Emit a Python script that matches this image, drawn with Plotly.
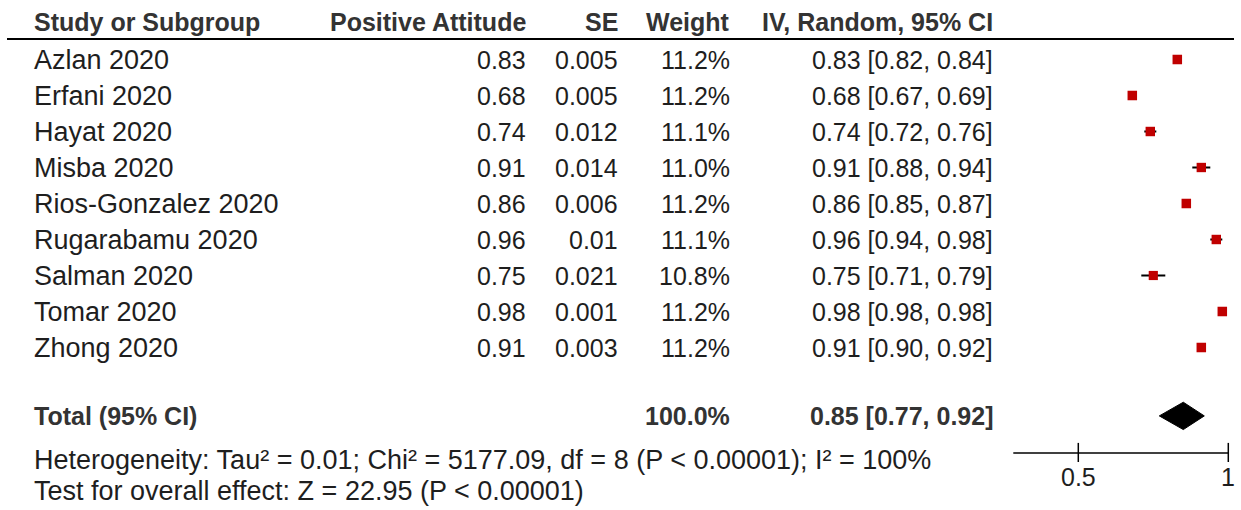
import plotly.graph_objects as go

# ---------------- data ----------------
studies = ["Azlan 2020", "Erfani 2020", "Hayat 2020", "Misba 2020", "Rios-Gonzalez 2020",
           "Rugarabamu 2020", "Salman 2020", "Tomar 2020", "Zhong 2020"]
estimate = [0.83, 0.68, 0.74, 0.91, 0.86, 0.96, 0.75, 0.98, 0.91]
se_labels = ["0.005", "0.005", "0.012", "0.014", "0.006", "0.01", "0.021", "0.001", "0.003"]
weight = [11.2, 11.2, 11.1, 11.0, 11.2, 11.1, 10.8, 11.2, 11.2]
ci_low = [0.82, 0.67, 0.72, 0.88, 0.85, 0.94, 0.71, 0.98, 0.90]
ci_high = [0.84, 0.69, 0.76, 0.94, 0.87, 0.98, 0.79, 0.98, 0.92]

total_label = "Total (95% CI)"
total_weight = 100.0
total_est = 0.85
total_low = 0.77
total_high = 0.92

headers = ["Study or Subgroup", "Positive Attitude", "SE", "Weight", "IV, Random, 95% CI"]
heterogeneity = "Heterogeneity: Tau\u00b2 = 0.01; Chi\u00b2 = 5177.09, df = 8 (P < 0.00001); I\u00b2 = 100%"
overall = "Test for overall effect: Z = 22.95 (P < 0.00001)"

axis_ticks = [0.5, 1]
axis_tick_labels = ["0.5", "1"]
axis_start = 0.2833

# ---------------- layout helpers ----------------
W, H = 1241, 510
FONT = "Liberation Sans, Arial, sans-serif"
FS_NUM = 25
FS_LAB = 27
TXT = "#1e1e1e"
HDR = "#333333"

def px(x):
    return x / W

rows = list(range(len(studies)))
y_header = -1.04
y_header_line = -0.57
y_total = 9.90
y_het = 11.12
y_test = 11.99
y_axis = 10.93
y_tick_top = 10.65
y_tick_bot = 11.18
y_ticklab = 11.60

col_left = px(32)
col_est = px(528)
col_se = px(620)
col_w = px(732)
col_ci = px(995)

fig = go.Figure()

# study CI lines (drawn first, under the squares)
ci_x, ci_y = [], []
for i in rows:
    ci_x += [ci_low[i], ci_high[i], None]
    ci_y += [i, i, None]
fig.add_trace(go.Scatter(
    x=ci_x, y=ci_y, mode="lines", line=dict(color="black", width=2),
    hoverinfo="skip", showlegend=False, cliponaxis=False,
))

# squares
fig.add_trace(go.Scatter(
    x=estimate, y=rows, mode="markers",
    marker=dict(symbol="square", size=[w * 0.85 for w in weight], color="#C00000",
                opacity=1, line=dict(width=0)),
    hoverinfo="skip", showlegend=False, cliponaxis=False,
))

# pooled diamond
dh = 0.38
fig.add_trace(go.Scatter(
    x=[total_low, total_est, total_high, total_est, total_low],
    y=[y_total, y_total - dh, y_total, y_total + dh, y_total],
    mode="lines", fill="toself", fillcolor="black", line=dict(color="black", width=1),
    hoverinfo="skip", showlegend=False,
))

ann = []
def t(x, y, s, anchor="left", bold=False, yref="y", xref="paper", size=FS_NUM):
    ann.append(dict(x=x, y=y, xref=xref, yref=yref, text=("<b>%s</b>" % s) if bold else s,
                    showarrow=False, xanchor=anchor, yanchor="middle",
                    font=dict(family=FONT, size=size, color=HDR if bold else TXT)))

# headers
hx = [(col_left, "left"), (col_est, "right"), (col_se, "right"), (col_w, "right"), (col_ci, "right")]
for (x, a), h in zip(hx, headers):
    t(x, y_header, h, a, bold=True)

# rows
for i, s in enumerate(studies):
    t(col_left, i, s, "left", size=FS_LAB)
    t(col_est, i, "%.2f" % estimate[i], "right")
    t(col_se, i, se_labels[i], "right")
    t(col_w, i, "%.1f%%" % weight[i], "right")
    t(col_ci, i, "%.2f [%.2f, %.2f]" % (estimate[i], ci_low[i], ci_high[i]), "right")

# total
t(col_left, y_total, total_label, "left", bold=True)
t(col_w, y_total, "%.1f%%" % total_weight, "right", bold=True)
t(col_ci, y_total, "%.2f [%.2f, %.2f]" % (total_est, total_low, total_high), "right", bold=True)

t(col_left, y_het, heterogeneity.replace("<", "&lt;"), "left", size=FS_LAB)
t(col_left, y_test, overall.replace("<", "&lt;"), "left", size=FS_LAB)

# axis tick labels
for v, lab in zip(axis_ticks, axis_tick_labels):
    t(v, y_ticklab, lab, "center", xref="x")

shapes = [
    dict(type="line", xref="paper", yref="y", x0=px(7), x1=px(1234),
         y0=y_header_line, y1=y_header_line, line=dict(color="black", width=2)),
    dict(type="line", xref="x", yref="y", x0=axis_start, x1=max(axis_ticks),
         y0=y_axis, y1=y_axis, line=dict(color="black", width=1.5)),
]
for v in axis_ticks:
    shapes.append(dict(type="line", xref="x", yref="y", x0=v, x1=v,
                       y0=y_tick_top, y1=y_tick_bot, line=dict(color="black", width=1.5)))

# x scale: 0.5 -> 1078.3 px, 1 -> 1228.3 px
ppu = 300.0
r0 = 0.5 - 1078.3 / ppu
r1 = r0 + W / ppu
# y scale: row i -> 59.5 + 36 i px
y_top = -59.5 / 36.0
y_bot = (H - 59.5) / 36.0

fig.update_layout(
    width=W, height=H, margin=dict(l=0, r=0, t=0, b=0),
    paper_bgcolor="white", plot_bgcolor="white",
    xaxis=dict(range=[r0, r1], domain=[0, 1], visible=False, fixedrange=True),
    yaxis=dict(range=[y_bot, y_top], domain=[0, 1], visible=False, fixedrange=True),
    annotations=ann, shapes=shapes, showlegend=False,
)

fig.write_html("out.html", config={"displayModeBar": False})
